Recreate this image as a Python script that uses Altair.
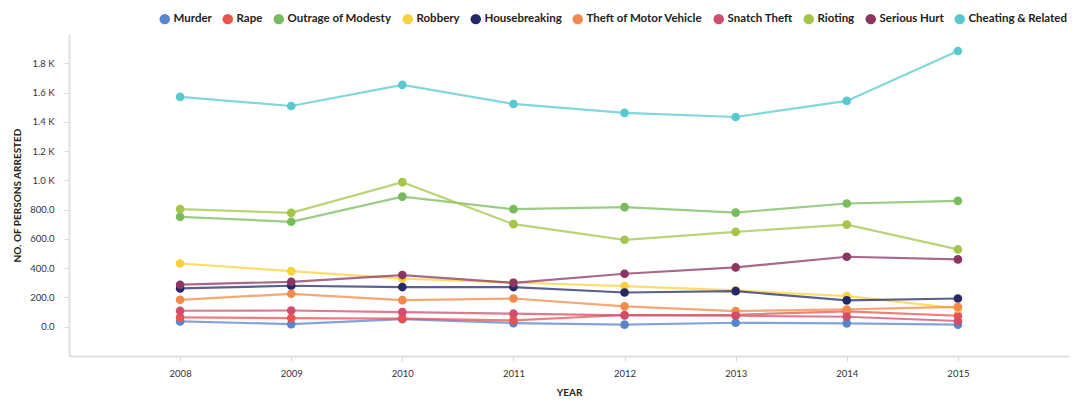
import altair as alt
import pandas as pd

years = [2008, 2009, 2010, 2011, 2012, 2013, 2014, 2015]
categories = ["Murder", "Rape", "Outrage of Modesty", "Robbery", "Housebreaking",
              "Theft of Motor Vehicle", "Snatch Theft", "Rioting", "Serious Hurt",
              "Cheating & Related"]
colors = ["#5a85cd", "#e9534f", "#78bb5c", "#f9d13b", "#25296a",
          "#f38a4b", "#d24c6b", "#a4c44a", "#8b3563", "#57c9cf"]

murder = [36, 18, 52, 25, 14, 27, 23, 14]
rape = [64, 59, 55, 43, 80, 82, 105, 75]
outrage = [751, 717, 889, 803, 817, 780, 842, 860]
robbery = [432, 380, 328, 302, 278, 248, 209, 125]
housebreaking = [262, 280, 271, 271, 234, 243, 180, 193]
theft_mv = [184, 225, 182, 193, 139, 107, 118, 136]
snatch = [109, 111, 100, 89, 77, 75, 68, 39]
rioting = [803, 778, 988, 701, 594, 648, 698, 528]
serious_hurt = [287, 307, 353, 300, 362, 405, 478, 460]
cheating = [1570, 1508, 1652, 1522, 1461, 1433, 1543, 1884]

series = [murder, rape, outrage, robbery, housebreaking, theft_mv, snatch,
          rioting, serious_hurt, cheating]

rows = []
for cat, vals in zip(categories, series):
    for yr, v in zip(years, vals):
        rows.append({"Year": yr, "Crime": cat, "Arrested": v})
df = pd.DataFrame(rows)

FONT = "Lato"

color = alt.Color("Crime:N",
                  scale=alt.Scale(domain=categories, range=colors),
                  legend=alt.Legend(orient="none", direction="horizontal",
                                    legendX=90, legendY=-21, title=None,
                                    symbolType="circle", symbolSize=110,
                                    symbolOpacity=1, symbolStrokeWidth=0,
                                    labelFont=FONT, labelFontSize=11.5,
                                    labelFontWeight="bold", labelColor="#222",
                                    columnPadding=10, symbolOffset=0,
                                    labelOffset=3, columns=10))

x = alt.X("Year:Q",
          scale=alt.Scale(domain=[2007, 2016], nice=False, zero=False),
          axis=alt.Axis(values=years, format="d", title="YEAR", grid=False,
                        domainColor="#e0e0e0", domainWidth=2,
                        tickColor="#d8d8d8", tickSize=5, labelPadding=7,
                        labelFont=FONT, labelFontSize=9.5, labelColor="#333",
                        titleFont=FONT, titleFontSize=10, titleFontWeight="bold",
                        titleColor="#222", titlePadding=10))

y = alt.Y("Arrested:Q",
          scale=alt.Scale(domain=[-200, 2000], nice=False, zero=False),
          axis=alt.Axis(values=[0, 200, 400, 600, 800, 1000, 1200, 1400, 1600, 1800],
                        labelExpr="datum.value >= 1000 ? format(datum.value/1000, '.1f') + ' K' : format(datum.value, '.1f')",
                        title="NO. OF PERSONS ARRESTED", grid=False,
                        domainColor="#e0e0e0", domainWidth=2,
                        tickColor="#d8d8d8", tickSize=5, labelPadding=10,
                        labelFont=FONT, labelFontSize=9.5, labelColor="#333",
                        titleFont=FONT, titleFontSize=10, titleFontWeight="bold",
                        titleColor="#222", titlePadding=7))

base = alt.Chart(df).encode(x=x, y=y, color=color, detail="Crime:N")

lines = base.mark_line(strokeWidth=2.2, opacity=0.75)
points = base.mark_circle(size=75, opacity=1)

chart = (lines + points).properties(
    width=1000, height=322,
    autosize=alt.AutoSizeParams(type="none"),
    padding={"left": 61, "top": 26, "right": 4, "bottom": 45},
).configure_view(stroke=None)

chart.save("out.html", embed_options={"renderer": "svg", "actions": False})
